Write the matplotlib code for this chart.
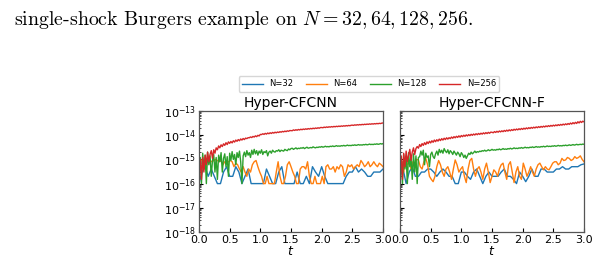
import numpy as np
import matplotlib
matplotlib.use("Agg")
import matplotlib.pyplot as plt
from matplotlib.ticker import LogLocator, NullFormatter

labels = ["N=32", "N=64", "N=128", "N=256"]
colors = ["#1f77b4", "#ff7f0e", "#2ca02c", "#d62728"]
titles = ["Hyper-CFCNN", "Hyper-CFCNN-F"]
xticks = [0.0, 0.5, 1.0, 1.5, 2.0, 2.5, 3.0]

# ---- Hyper-CFCNN ----
# N=32 (units 1e-16)
a_n32 = [1, 3, 5, 2, 4, 2, 1, 1, 3, 5, 2, 2, 5, 3, 1, 2, 4, 1, 1, 1, 1, 1, 4, 2, 1, 1, 3, 5, 1, 1,
         1, 1, 3, 1, 1, 2, 1, 5, 3, 2, 5, 2, 1, 1, 1, 1, 1, 1, 2, 3, 3, 5, 3, 4, 3, 2, 2, 3, 3, 3, 4]
# N=64 (units 1e-16)
a_n64 = [6, 9, 10, 8, 9, 10, 9, 8, 9, 10, 9, 8, 9, 6, 8, 7, 8, 9, 8, 5, 7, 6, 4, 3, 5, 3, 2, 4, 3, 6,
         8, 9, 5, 3, 2, 1, 1, 2, 1, 1, 1, 1, 3, 8, 2, 1, 1, 2, 6, 8, 5, 3, 2, 1, 1, 4, 5, 5, 4, 8,
         2, 1, 1, 2, 1, 1, 1, 2, 1, 5, 6, 4, 4, 5, 3, 5, 4, 6, 5, 2, 3, 6, 5, 6, 4, 5, 6, 5, 9, 7,
         5, 6, 8, 5, 6, 8, 6, 5, 7, 6, 5]
# N=128 (units 1e-15)
a_n128 = [0.3, 1.2, 0.1, 1.8, 0.4, 1.5, 0.1, 2.0, 0.6, 1.4, 0.2, 0.9, 1.6, 0.3, 1.2, 0.15, 1.5, 0.8,
          1.9, 0.3, 1.1, 1.7, 0.5, 1.3, 0.2, 1.8, 0.9, 2.1, 1.0, 1.6, 0.6, 1.9, 1.2, 2.2, 0.8, 0.1,
          1.4, 2.0, 1.3, 2.3, 1.5, 1.9, 1.2, 2.4, 1.6, 2.6, 1.7, 2.3, 1.5, 2.2, 1.8, 2.5, 1.6, 2.1,
          1.9, 2.3, 1.4, 2.0, 2.2, 1.8, 2.4, 2.1, 2.0, 2.3, 2.2, 2.5, 2.1, 2.4, 2.3, 2.2, 2.6, 2.4,
          2.3, 2.7, 2.5, 2.8, 2.9, 2.6, 2.8, 3.0, 2.7, 2.9, 2.8, 3.0, 2.9, 3.1, 2.8, 3.0, 3.2, 2.9,
          3.0, 3.1, 3.0, 3.3, 3.1, 3.0, 3.2, 3.1, 3.3, 3.2, 3.4, 3.2, 3.3, 3.5, 3.3, 3.4, 3.3, 3.5,
          3.4, 3.6, 3.4, 3.5, 3.7, 3.5, 3.6, 3.5, 3.7, 3.6, 3.8, 3.6, 3.7, 3.9, 3.7, 3.8, 3.7, 3.9,
          3.8, 4.0, 3.8, 3.9, 4.1, 3.9, 4.0, 3.9, 4.1, 4.0, 4.2, 4.0, 4.1, 4.3, 4.1, 4.2, 4.1, 4.3,
          4.2, 4.4, 4.2, 4.3, 4.5, 4.3, 4.5]
# N=256 (units 1e-15)
a_n256 = [0.2, 1.0, 0.15, 1.2, 0.3, 1.5, 0.6, 2.0, 0.8, 1.6, 2.3, 1.1, 2.5, 1.8, 3.0, 2.5, 3.6, 3.0,
          4.0, 3.4, 4.4, 3.8, 4.9, 4.1, 5.3, 4.6, 5.5, 4.8, 5.9, 5.2, 6.3, 5.6, 6.6, 5.9, 7.0, 6.3,
          7.3, 6.6, 7.6, 7.2,
          7.9, 7.8, 8.5, 8.0, 8.9, 8.4, 9.4, 8.7, 9.9, 9.3, 10.8,
          10.6, 11.5, 10.8, 11.9, 11.1, 12.3, 11.5, 12.6, 11.8, 13.0, 12.2, 13.3, 12.5, 13.6, 12.9,
          14.0, 13.3, 14.4, 13.7, 14.8, 14.0, 15.2, 14.5, 15.6, 15.4,
          15.3, 16.6, 15.7, 16.9, 16.0, 17.3, 16.4, 17.7, 16.8, 18.0, 17.2, 18.4, 17.5, 18.8, 17.9,
          19.1, 18.3, 19.5, 18.6, 19.9, 19.0, 20.3, 19.4, 20.7, 20.8,
          20.3, 21.6, 20.7, 22.0, 21.1, 22.3, 21.5, 22.7, 21.8, 23.1, 22.2, 23.4, 22.6, 23.8, 22.9,
          24.2, 23.3, 24.6, 23.7, 25.0, 24.1, 25.4, 24.5, 25.8, 26.0,
          25.4, 26.8, 25.9, 27.2, 26.3, 27.6, 26.7, 28.0, 27.1, 28.4, 27.6, 28.8, 28.0, 29.3, 28.4,
          29.7, 28.8, 30.1, 29.3, 30.6, 29.7, 31.0, 30.2, 31.5, 32.0]

# ---- Hyper-CFCNN-F ----
b_n32 = [2, 4, 1, 3, 5, 2, 2, 3, 3, 4, 4, 3, 2, 3, 4, 3, 2, 2, 1, 1, 3, 3, 2, 1.5, 3, 4, 2, 1, 2, 3,
         2, 2, 2, 3, 4, 2, 2, 1.5, 1, 3, 2, 1.2, 2, 4, 2, 2, 4, 4, 3, 3, 3, 4, 4, 5, 4, 4, 5, 5, 5,
         6, 6.5]
b_n64 = [5, 8, 3, 10, 6, 9, 4, 8, 6, 10, 9.5, 5, 4, 8, 11, 6, 2, 1.5, 1.2, 2, 5, 9, 6, 3, 2, 4, 5,
         3, 1.5, 4, 9.5, 6, 3, 4, 5, 2, 1.1, 4, 9, 11, 4, 2, 4, 5, 3, 1.5, 4, 7, 3, 1.1, 2, 3.7, 3,
         2, 4, 6, 7, 3, 1.5, 6, 8, 3, 1.1, 3, 5, 2, 1.5, 7, 4, 2, 3, 5, 3, 2, 4, 6, 7, 5, 3.7, 5, 4,
         3.7, 5, 7, 8, 8, 6, 7, 11, 9, 9.5, 12, 11, 9, 10, 13, 11, 12, 14, 10, 8]
b_n128 = [0.2, 1.1, 0.1, 1.6, 0.4, 1.3, 0.1, 1.9, 0.5, 1.2, 0.15, 1.7, 0.3, 1.4, 0.1, 1.2,
          1.3, 2.2, 1.5, 2.4, 0.6, 1.8, 1.2, 1.4, 0.5, 1.6, 2.0, 1.3, 1.1, 1.7, 2.2, 1.5, 2.6, 1.9,
          2.4, 1.8, 2.8, 2.2, 1.9, 2.5, 1.7, 2.3, 2.0, 1.6, 2.2, 1.8,
          1.5, 2.0, 1.7, 1.3, 1.9, 1.6, 1.2, 1.5, 1.1, 1.4, 1.8, 1.6, 2.0, 1.7, 1.9, 2.2, 1.9, 2.1,
          2.0, 2.2,
          2.1, 2.3, 2.2, 2.4, 2.2, 2.3, 2.5, 2.3, 2.4, 2.6, 2.4, 2.5, 2.4, 2.6, 2.5, 2.7, 2.5, 2.6,
          2.8, 2.6, 2.7, 2.6, 2.8, 2.7, 2.9, 2.7, 2.8, 3.0, 2.8, 2.9, 2.8, 3.0, 2.9, 3.1, 2.9, 3.0,
          3.2, 3.0, 3.1, 3.0, 3.2, 3.1, 3.3, 3.1, 3.2, 3.4, 3.2, 3.3, 3.2, 3.4, 3.3, 3.5, 3.3, 3.4,
          3.6, 3.4, 3.5, 3.4, 3.6, 3.5, 3.7, 3.5, 3.6, 3.8, 3.6, 3.7, 3.6, 3.8, 3.7, 3.9, 3.7, 3.8,
          4.0, 3.8, 3.9, 4.1, 3.9, 4.0, 4.2, 4.0, 4.1, 4.2, 4.1, 4.3, 4.2]
b_n256 = [0.3, 1.4, 0.15, 1.8, 0.5, 2.2, 0.8, 1.5, 2.6, 0.9, 2.0, 3.0, 1.6, 2.8,
          3.4, 2.9, 4.1, 3.4, 4.5, 3.8, 4.9, 4.1, 5.3, 4.5, 5.6, 4.8, 5.9, 5.1, 6.3, 5.4, 6.5, 5.7,
          6.9, 6.0, 7.2, 6.3, 7.5, 6.6, 7.8, 6.9, 7.9,
          7.2, 8.4, 7.5, 8.7, 7.8, 9.0, 8.1, 9.4, 8.3, 9.7, 8.7, 10.0, 9.0, 10.3, 9.3, 10.6, 9.6,
          10.9, 9.9, 11.2, 10.2, 11.5, 10.5, 11.8, 10.8, 12.1, 11.1, 12.5, 11.4, 12.8, 11.7, 13.1,
          12.0, 13.4, 13.2,
          12.6, 14.1, 13.0, 14.5, 13.3, 14.9, 13.7, 15.2, 14.0, 15.7, 14.4, 16.2, 14.8, 16.6, 15.2,
          17.0, 15.7, 17.6, 16.2, 18.0, 16.6, 18.5, 17.0, 19.0, 17.4, 19.5, 17.9, 20.0, 18.4, 20.5,
          18.9, 21.0, 19.4, 21.5, 19.9, 22.0, 20.4, 22.6, 20.9, 23.1, 21.4, 23.6, 21.9, 24.2, 22.5,
          24.8, 23.0, 25.4, 23.6, 26.0, 24.1, 26.6, 24.7, 27.3, 25.3, 27.9, 26.0, 28.7, 26.6, 29.5,
          27.3, 30.3, 28.0, 31.8, 28.9, 33.0, 29.8, 34.0, 30.5, 36.0, 32.0, 37.5, 33.5, 38.0, 35.5]

scales = [1e-16, 1e-16, 1e-15, 1e-15]
panels = [[a_n32, a_n64, a_n128, a_n256], [b_n32, b_n64, b_n128, b_n256]]
T_END = 3.0

W, H = 598, 261
fig = plt.figure(figsize=(W / 100, H / 100), dpi=100)

fig.text(14 / W, 1 - 25 / H, r"single-shock Burgers example on $N = 32, 64, 128, 256.$",
         fontfamily="cmr10", math_fontfamily="cm", fontsize=14.3, va="baseline", ha="left")

ax_lefts = [199 / W, 400 / W]
ax_w = 184 / W
ax_b = 1 - 232 / H
ax_h = 121 / H

for k in range(2):
    ax = fig.add_axes([ax_lefts[k], ax_b, ax_w, ax_h])
    handles = []
    for j in range(4):
        vals = np.asarray(panels[k][j], dtype=float) * scales[j]
        t = np.linspace(0.0, T_END, len(vals))
        h, = ax.plot(t, vals, color=colors[j], lw=1.0, label=labels[j])
        handles.append(h)
    ax.set_yscale("log")
    ax.set_ylim(1e-18, 1e-13)
    ax.set_xlim(0, 3.0)
    ax.set_xticks(xticks)
    ax.set_xticklabels([f"{v:.1f}" for v in xticks])
    ax.yaxis.set_major_locator(LogLocator(base=10, numticks=10))
    ax.yaxis.set_minor_locator(LogLocator(base=10, subs=np.arange(2, 10), numticks=50))
    ax.yaxis.set_minor_formatter(NullFormatter())
    ax.tick_params(direction="in", labelsize=8, length=3, width=0.8, pad=2)
    ax.tick_params(which="minor", direction="in", length=1.5, width=0.5)
    for s in ax.spines.values():
        s.set_color("#555555")
        s.set_linewidth(0.9)
    ax.set_title(titles[k], fontsize=10, pad=3)
    ax.set_xlabel(r"$t$", fontsize=9, labelpad=0)
    if k == 1:
        ax.tick_params(labelleft=False)

fig.legend(handles, labels, loc="center", bbox_to_anchor=(369 / W, 1 - 84 / H), ncol=4,
           fontsize=6, handlelength=2.5, columnspacing=1.5, frameon=True,
           borderpad=0.4, handletextpad=0.8)

fig.savefig("out.png", dpi=100)
